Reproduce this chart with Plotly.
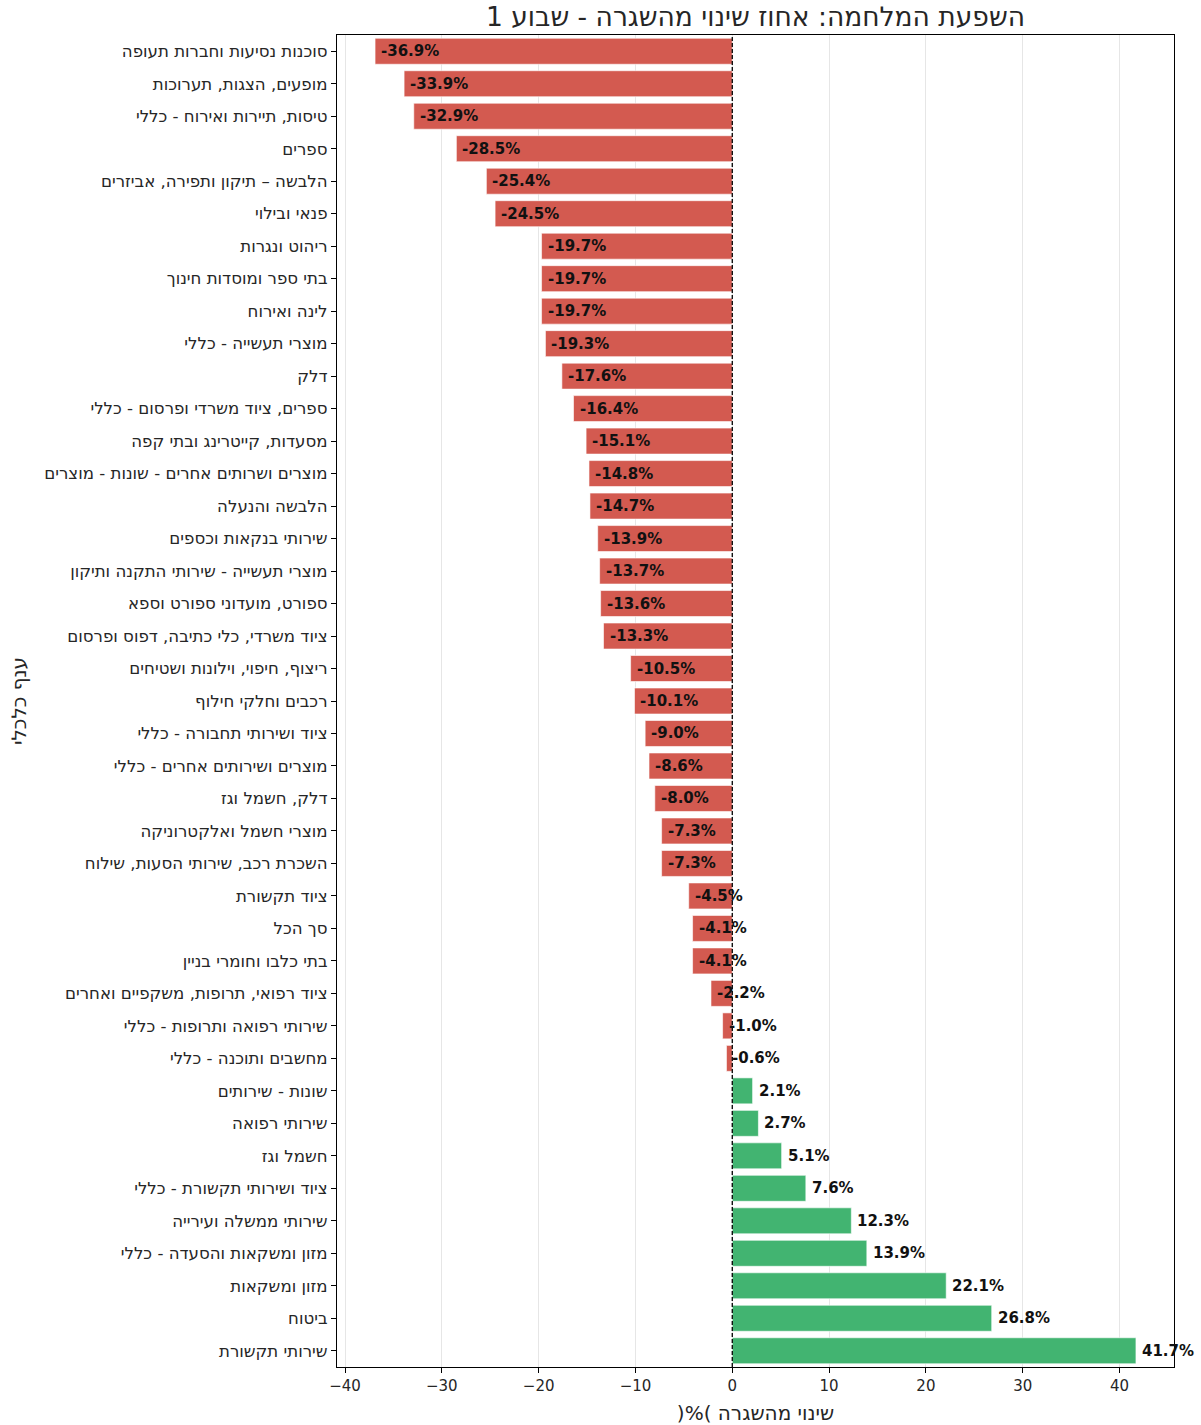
import plotly.graph_objects as go

categories = [
    "סוכנות נסיעות וחברות תעופה",
    "מופעים, הצגות, תערוכות",
    "טיסות, תיירות ואירוח - כללי",
    "ספרים",
    "הלבשה – תיקון ותפירה, אביזרים",
    "פנאי ובילוי",
    "ריהוט ונגרות",
    "בתי ספר ומוסדות חינוך",
    "לינה ואירוח",
    "מוצרי תעשייה - כללי",
    "דלק",
    "ספרים, ציוד משרדי ופרסום - כללי",
    "מסעדות, קייטרינג ובתי קפה",
    "מוצרים ושרותים אחרים - שונות - מוצרים",
    "הלבשה והנעלה",
    "שירותי בנקאות וכספים",
    "מוצרי תעשייה - שירותי התקנה ותיקון",
    "ספורט, מועדוני ספורט וספא",
    "ציוד משרדי, כלי כתיבה, דפוס ופרסום",
    "ריצוף, חיפוי, וילונות ושטיחים",
    "רכבים וחלקי חילוף",
    "ציוד ושירותי תחבורה - כללי",
    "מוצרים ושירותים אחרים - כללי",
    "דלק, חשמל וגז",
    "מוצרי חשמל ואלקטרוניקה",
    "השכרת רכב, שירותי הסעות, שילוח",
    "ציוד תקשורת",
    "סך הכל",
    "בתי כלבו וחומרי בניין",
    "ציוד רפואי, תרופות, משקפיים ואחרים",
    "שירותי רפואה ותרופות - כללי",
    "מחשבים ותוכנה - כללי",
    "שונות - שירותים",
    "שירותי רפואה",
    "חשמל וגז",
    "ציוד ושירותי תקשורת - כללי",
    "שירותי ממשלה ועירייה",
    "מזון ומשקאות והסעדה - כללי",
    "מזון ומשקאות",
    "ביטוח",
    "שירותי תקשורת",
]

values = [
    -36.9, -33.9, -32.9, -28.5, -25.4, -24.5, -19.7, -19.7, -19.7, -19.3,
    -17.6, -16.4, -15.1, -14.8, -14.7, -13.9, -13.7, -13.6, -13.3, -10.5,
    -10.1, -9.0, -8.6, -8.0, -7.3, -7.3, -4.5, -4.1, -4.1, -2.2,
    -1.0, -0.6, 2.1, 2.7, 5.1, 7.6, 12.3, 13.9, 22.1, 26.8, 41.7,
]

x_ticks = [-40, -30, -20, -10, 0, 10, 20, 30, 40]

title_text = "השפעת המלחמה: אחוז שינוי מהשגרה - שבוע 1"
x_title = ")%( שינוי מהשגרה"
y_title = "ענף כלכלי"

RED = "#d35a50"
GREEN = "#42b471"
FONT = "DejaVu Sans"
TXT = "#262626"

colors = [RED if v < 0 else GREEN for v in values]

fig = go.Figure()
fig.add_trace(go.Bar(
    x=values,
    y=categories,
    orientation="h",
    width=0.8,
    marker=dict(color=colors, line=dict(color="rgba(255,255,255,0.6)", width=1)),
    showlegend=False,
    hoverinfo="x+y",
))

for c, v in zip(categories, values):
    fig.add_annotation(
        x=v, y=c, xref="x", yref="y",
        text=f"<b>{v:.1f}%</b>",
        showarrow=False, xanchor="left", yanchor="middle", xshift=4,
        font=dict(family=FONT, size=15, color="#111111"),
    )

fig.add_shape(
    type="line", xref="x", yref="paper", x0=0, x1=0, y0=0, y1=1,
    line=dict(color="black", width=1.3, dash="4px,2px"), layer="above",
)

fig.update_layout(
    width=1201,
    height=1425,
    margin=dict(l=337, r=27, t=35, b=58, autoexpand=False),
    paper_bgcolor="white",
    plot_bgcolor="white",
    font=dict(family=FONT, size=15, color=TXT),
    title=dict(
        text=title_text, x=0.5, xref="paper", xanchor="center",
        y=1 - 17 / 1425, yref="container", yanchor="middle",
        font=dict(family=FONT, size=26.5, color=TXT),
    ),
    bargap=0.2,
)

fig.update_xaxes(
    automargin=False,
    range=[-40.83, 45.63],
    tickmode="array", tickvals=x_ticks,
    showgrid=True, gridcolor="#e6e6e6", gridwidth=1,
    zeroline=False,
    showline=True, linecolor="black", linewidth=1.3, mirror=True,
    ticks="outside", ticklen=5, tickcolor="black", tickwidth=1,
    tickfont=dict(family=FONT, size=15, color=TXT),
    title=dict(text=x_title, font=dict(family=FONT, size=20, color=TXT), standoff=12),
)

fig.update_yaxes(
    automargin=False,
    type="category",
    categoryorder="array", categoryarray=categories,
    range=[len(categories) - 0.5, -0.5],
    showgrid=False, zeroline=False,
    showline=True, linecolor="black", linewidth=1.3, mirror=True,
    ticks="outside", ticklen=5, tickcolor="black", tickwidth=1,
    tickfont=dict(family=FONT, size=16.6, color=TXT),
    title=dict(text=y_title, font=dict(family=FONT, size=20, color=TXT), standoff=12),
)

fig.write_html(
    "out.html",
    config={"displayModeBar": False},
    post_script="document.body.style.margin='0';",
)
